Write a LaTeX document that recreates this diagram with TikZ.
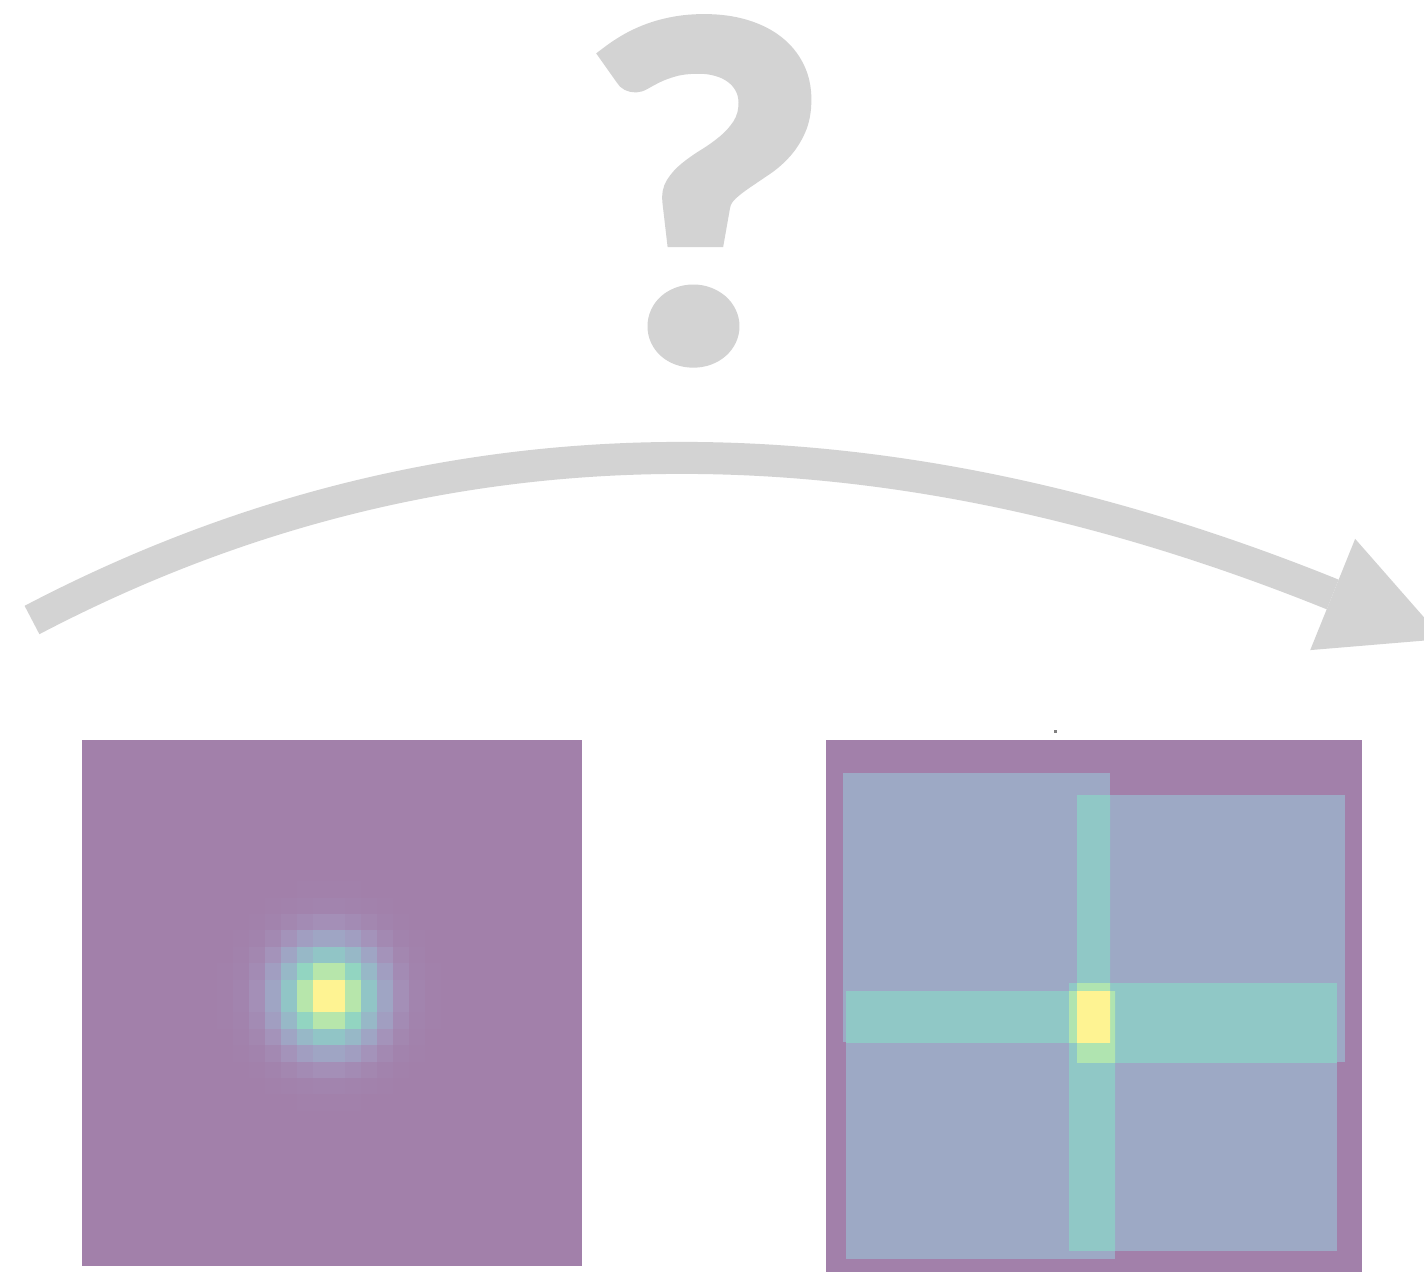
\documentclass[tikz,border=0pt]{standalone}
\usepackage{fontspec}
\newfontfamily\qmfont{Lato}[BoldFeatures={FakeBold=3, FakeStretch=1.12}]
\usepackage{tikz}
\usetikzlibrary{arrows.meta,calc}
% viridis at half opacity on white
\definecolor{vir0}{RGB}{162,128,170}
\definecolor{vir1}{RGB}{164,146,186}
\definecolor{vir2}{RGB}{160,162,195}
\definecolor{vir3}{RGB}{154,175,198}
\definecolor{vir4}{RGB}{149,188,199}
\definecolor{vir5}{RGB}{144,200,198}
\definecolor{vir6}{RGB}{145,212,194}
\definecolor{vir7}{RGB}{162,223,184}
\definecolor{vir8}{RGB}{189,232,168}
\definecolor{vir9}{RGB}{222,239,147}
\definecolor{vir10}{RGB}{254,243,146}
\definecolor{lvlone}{RGB}{157,169,197}
\definecolor{lvltwo}{RGB}{144,200,198}
\definecolor{lvlthree}{RGB}{176,228,176}
\definecolor{lvlfour}{RGB}{254,243,146}
\definecolor{arrowgray}{RGB}{211,211,211}
\tikzset{
  panel/.style={fill=vir0, draw=none},
  bigarrow/.style={draw=arrowgray, line width=0.64cm, line cap=butt,
                   -{Triangle[length=2.38cm, width=2.4cm, line width=0pt]}},
  qmark/.style={text=arrowgray, inner sep=0pt, anchor=base,
                font=\qmfont\bfseries\fontsize{262}{262}\selectfont}
}
\begin{document}
\begin{tikzpicture}[x=0.02cm, y=-0.02cm]
\useasboundingbox (0,0) rectangle (1424,1272);
\clip (0,0) rectangle (1424,1272);
% ---- question mark ----
\node[qmark] (qm) at (706,357.5) {?};
% ---- arrow ----
\coordinate (tail) at (32,620);
\coordinate (tip) at (1443,639);
\draw[bigarrow] (tail) .. controls (427,413) and (861,404) .. (tip);
% ---- left panel: blob ----
\fill[panel] (82,740) rectangle (582,1266);
\coordinate (bc) at (329,996);
\foreach \i in {-7,...,6}{
  \foreach \j in {-7,...,6}{
    \pgfmathsetmacro{\v}{exp(-(((\i+0.5)^2+(\j+0.5)^2)-0.5)/8)}
    \pgfmathsetmacro{\vs}{10*\v}
    \pgfmathtruncatemacro{\k}{min(floor(\vs),9)}
    \pgfmathtruncatemacro{\kk}{\k+1}
    \pgfmathtruncatemacro{\t}{round(100*(\vs-\k))}
    \colorlet{cellc}{vir\kk!\t!vir\k}
    \fill[cellc, shift={(bc)}] (\i*16,\j*16.4) rectangle ++(16.3,16.7);
  }
}
% ---- right panel: overlapping tiles ----
\fill[panel] (826,740) rectangle (1362,1272);
\fill[gray] (1054,730) rectangle (1057,733);
\coordinate (a1) at (843,773);  \coordinate (a2) at (1110,1042);
\coordinate (b1) at (1077,795); \coordinate (b2) at (1345,1062);
\coordinate (c1) at (846,991);  \coordinate (c2) at (1115,1259);
\coordinate (d1) at (1069,983); \coordinate (d2) at (1337,1251);
\foreach \p in {a,b,c,d}
  \fill[lvlone] (\p1) rectangle (\p2);
\foreach \p/\q in {a/b,a/c,a/d,b/c,b/d,c/d}{
  \begin{scope}
    \clip (\p1) rectangle (\p2);
    \fill[lvltwo] (\q1) rectangle (\q2);
  \end{scope}
}
\foreach \p/\q/\r in {a/b/c,a/b/d,a/c/d,b/c/d}{
  \begin{scope}
    \clip (\p1) rectangle (\p2);
    \clip (\q1) rectangle (\q2);
    \fill[lvlthree] (\r1) rectangle (\r2);
  \end{scope}
}
\begin{scope}
  \clip (a1) rectangle (a2);
  \clip (b1) rectangle (b2);
  \clip (c1) rectangle (c2);
  \fill[lvlfour] (d1) rectangle (d2);
\end{scope}
\end{tikzpicture}
\end{document}
